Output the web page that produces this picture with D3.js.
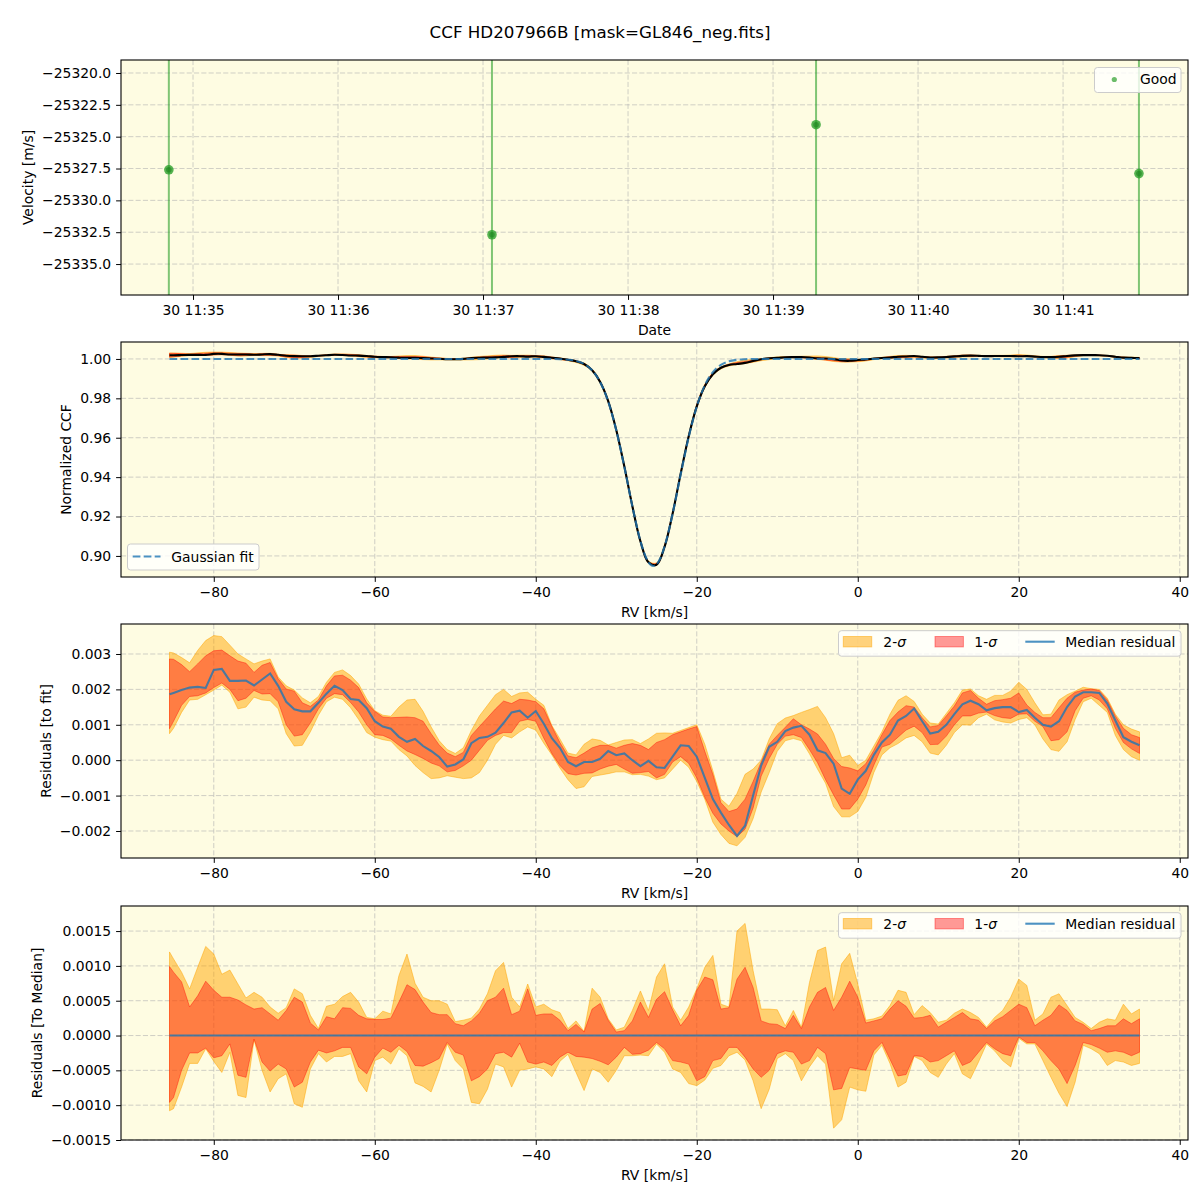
<!DOCTYPE html>
<html><head><meta charset="utf-8">
<script src="https://cdn.jsdelivr.net/npm/d3@7"></script>
<style>body{margin:0;background:#fff;} text{font-family:"DejaVu Sans",sans-serif;}</style>
</head><body><svg id="c" width="1200" height="1200" xmlns="http://www.w3.org/2000/svg"></svg>
<script>
// ---------------- DATA ----------------
const titleText = "CCF HD207966B [mask=GL846_neg.fits]";
// Panel 1: RV time series
const obsTimes = ["2021-08-30T11:34:50.0Z", "2021-08-30T11:37:03.7Z", "2021-08-30T11:39:17.8Z", "2021-08-30T11:41:31.4Z"];
const obsVel = [-25327.6, -25332.7, -25324.06, -25327.9];
const obsErr = [15, 15, 15, 15];
const velTicks = [-25335.0, -25332.5, -25330.0, -25327.5, -25325.0, -25322.5, -25320.0];

// RV grid (km/s)
const rvGrid = [-85.5].concat(d3.range(-85, 36, 1));
const rvTicks = [-80, -60, -40, -20, 0, 20, 40];
const ccfTicks = [0.90, 0.92, 0.94, 0.96, 0.98, 1.00];
const resTicks = [-0.002, -0.001, 0.000, 0.001, 0.002, 0.003];
const devTicks = [-0.0015, -0.0010, -0.0005, 0.0000, 0.0005, 0.0010, 0.0015];

// Panel 2: observed CCF (median) and Gaussian fit
const ccfObs = [
 1.00186, 1.00190, 1.00198, 1.00205, 1.00207, 1.00204,
 1.00255, 1.00258, 1.00224, 1.00224, 1.00225, 1.00211, 1.00228, 1.00245, 1.00210, 1.00165,
 1.00144, 1.00138, 1.00138, 1.00162, 1.00188, 1.00210, 1.00198, 1.00173, 1.00170, 1.00147,
 1.00110, 1.00095, 1.00089, 1.00066, 1.00052, 1.00060, 1.00040, 1.00026, 1.00009, 0.99982,
 0.99988, 1.00002, 1.00048, 1.00063, 1.00066, 1.00078, 1.00105, 1.00135, 1.00140, 1.00120,
 1.00139, 1.00103, 1.00058, 1.00023, 0.99958, 0.99882, 0.99742, 0.99423, 0.98833, 0.97862,
 0.96395, 0.94548, 0.92524, 0.90745, 0.89677, 0.89554, 0.90457, 0.92148, 0.94172, 0.96078,
 0.97592, 0.98615, 0.99224, 0.99552, 0.99695, 0.99741, 0.99800, 0.99895, 0.99985, 1.00038,
 1.00052, 1.00082, 1.00092, 1.00097, 1.00072, 1.00028, 1.00020, 0.99990, 0.99920, 0.99905,
 0.99945, 0.99970, 1.00015, 1.00050, 1.00072, 1.00112, 1.00125, 1.00146, 1.00110, 1.00075,
 1.00080, 1.00100, 1.00130, 1.00158, 1.00168, 1.00158, 1.00141, 1.00147, 1.00150, 1.00150,
 1.00136, 1.00142, 1.00120, 1.00100, 1.00095, 1.00110, 1.00150, 1.00180, 1.00192, 1.00192,
 1.00190, 1.00160, 1.00112, 1.00065, 1.00052, 1.00042];
const fitRV = [-85.5, -40, -38, -37, -36, -35, -34, -33, -32, -31, -30, -29, -28, -27, -26.5, -26, -25.4, -25, -24.5, -24, -23, -22, -21, -20, -19, -18, -17, -16, -15, -14, -13, -10, 35];
const fitFlux = [1.0, 1.0, 0.99996, 0.99988, 0.99963, 0.99899, 0.99747, 0.99428, 0.98829, 0.97836, 0.96381, 0.94529, 0.92524, 0.90762, 0.90111, 0.89679, 0.89490, 0.89574, 0.89910, 0.90479, 0.92138, 0.94130, 0.96038, 0.97582, 0.98665, 0.99334, 0.99700, 0.99878, 0.99955, 0.99985, 0.99995, 1.0, 1.0];

// Panel 3: residuals to fit, units of 1e-3
const resScale = 1e-3;
const resMed = [
 1.86, 1.90, 1.98, 2.05, 2.07, 2.04,
 2.55, 2.58, 2.24, 2.24, 2.25, 2.11, 2.28, 2.45, 2.10, 1.65,
 1.44, 1.38, 1.38, 1.62, 1.88, 2.10, 1.98, 1.73, 1.70, 1.47,
 1.10, 0.95, 0.89, 0.66, 0.52, 0.60, 0.40, 0.26, 0.09, -0.18,
 -0.12, 0.02, 0.48, 0.63, 0.66, 0.78, 1.05, 1.35, 1.40, 1.20,
 1.39, 1.03, 0.62, 0.35, -0.05, -0.17, -0.05, -0.05, 0.04, 0.26,
 0.14, 0.19, 0.00, -0.17, -0.02, -0.20, -0.22, 0.10, 0.42, 0.40,
 0.10, -0.50, -1.10, -1.48, -1.83, -2.14, -1.85, -1.00, -0.15, 0.38,
 0.52, 0.82, 0.92, 0.97, 0.72, 0.28, 0.20, -0.10, -0.80, -0.95,
 -0.55, -0.30, 0.15, 0.50, 0.72, 1.12, 1.25, 1.46, 1.10, 0.75,
 0.80, 1.00, 1.30, 1.58, 1.68, 1.58, 1.41, 1.47, 1.50, 1.50,
 1.36, 1.42, 1.20, 1.00, 0.95, 1.10, 1.50, 1.80, 1.92, 1.92,
 1.90, 1.60, 1.12, 0.65, 0.52, 0.42];
const res1Hi = [
 2.86, 2.85, 2.70, 2.50, 2.72, 2.95,
 3.09, 3.11, 2.95, 2.80, 2.74, 2.48, 2.68, 2.76, 2.30, 2.01,
 1.95, 1.62, 1.52, 1.70, 2.10, 2.38, 2.40, 2.26, 2.05, 1.62,
 1.38, 1.22, 1.20, 1.21, 1.22, 1.20, 1.10, 0.75, 0.43, 0.20,
 0.10, 0.22, 0.70, 0.95, 1.20, 1.45, 1.67, 1.60, 1.72, 1.70,
 1.65, 1.45, 0.95, 0.50, 0.12, 0.07, 0.20, 0.35, 0.42, 0.42,
 0.34, 0.42, 0.47, 0.42, 0.30, 0.50, 0.58, 0.72, 0.80, 0.88,
 0.95, 0.25, -0.40, -1.20, -1.45, -1.38, -1.10, -0.60, -0.05, 0.45,
 0.70, 0.93, 1.17, 1.00, 0.88, 0.74, 0.45, 0.05, -0.18, -0.22,
 -0.30, -0.10, 0.28, 0.72, 1.12, 1.36, 1.54, 1.50, 1.20, 0.94,
 0.98, 1.25, 1.53, 1.90, 1.97, 1.75, 1.58, 1.68, 1.71, 1.75,
 1.90, 1.56, 1.35, 1.20, 1.20, 1.48, 1.75, 1.92, 1.98, 2.01,
 1.97, 1.70, 1.25, 0.90, 0.72, 0.64];
const res1Lo = [
 0.89, 1.10, 1.55, 1.80, 1.82, 1.90,
 2.05, 2.18, 2.00, 1.68, 1.75, 1.97, 1.87, 1.88, 1.65, 1.00,
 0.68, 0.72, 1.05, 1.45, 1.75, 1.88, 1.85, 1.63, 1.36, 1.00,
 0.72, 0.70, 0.60, 0.42, 0.26, 0.16, 0.05, -0.08, -0.16, -0.33,
 -0.29, -0.16, 0.00, 0.28, 0.56, 0.70, 0.78, 0.78, 1.10, 1.15,
 1.10, 0.62, 0.19, -0.15, -0.38, -0.42, -0.37, -0.36, -0.25, -0.17,
 -0.12, -0.25, -0.37, -0.35, -0.32, -0.50, -0.40, -0.05, 0.10, -0.09,
 -0.50, -1.05, -1.50, -1.80, -2.00, -2.16, -1.95, -1.35, -0.45, 0.05,
 0.45, 0.68, 0.72, 0.64, 0.30, -0.07, -0.55, -0.98, -1.38, -1.38,
 -1.10, -0.70, -0.14, 0.37, 0.45, 0.65, 0.85, 0.96, 0.78, 0.44,
 0.45, 0.68, 1.00, 1.25, 1.25, 1.33, 1.36, 1.26, 1.20, 1.18,
 1.30, 1.31, 1.10, 0.95, 0.55, 0.58, 0.80, 1.40, 1.75, 1.82,
 1.70, 1.45, 0.90, 0.50, 0.32, 0.19];
const res2Hi = [
 3.05, 3.03, 2.90, 2.75, 3.10, 3.38,
 3.52, 3.49, 3.25, 3.00, 2.86, 2.72, 2.80, 2.86, 2.35, 2.10,
 1.98, 1.76, 1.62, 1.80, 2.20, 2.48, 2.55, 2.39, 2.15, 1.73,
 1.40, 1.27, 1.24, 1.50, 1.70, 1.72, 1.38, 0.94, 0.55, 0.30,
 0.19, 0.35, 0.84, 1.25, 1.55, 1.85, 2.00, 1.80, 1.90, 1.92,
 1.72, 1.55, 0.98, 0.60, 0.20, 0.15, 0.45, 0.60, 0.56, 0.43,
 0.50, 0.57, 0.58, 0.47, 0.60, 0.76, 0.77, 0.76, 0.84, 0.92,
 1.00, 0.45, -0.30, -1.10, -1.30, -0.94, -0.40, -0.25, 0.00, 0.60,
 1.03, 1.19, 1.26, 1.35, 1.43, 1.52, 1.20, 0.75, 0.07, 0.14,
 -0.15, 0.00, 0.40, 0.80, 1.30, 1.69, 1.82, 1.66, 1.30, 1.05,
 1.02, 1.32, 1.62, 1.98, 2.01, 1.82, 1.72, 1.83, 1.83, 1.95,
 2.20, 2.00, 1.62, 1.28, 1.30, 1.70, 1.85, 1.95, 2.06, 2.02,
 2.00, 1.75, 1.30, 1.00, 0.88, 0.80];
const res2Lo = [
 0.75, 0.90, 1.35, 1.70, 1.72, 1.85,
 1.98, 2.12, 1.92, 1.45, 1.50, 1.78, 1.70, 1.68, 1.45, 0.75,
 0.40, 0.42, 0.80, 1.27, 1.65, 1.78, 1.72, 1.48, 1.15, 0.78,
 0.65, 0.58, 0.54, 0.30, 0.12, -0.15, -0.35, -0.52, -0.50, -0.44,
 -0.48, -0.52, -0.50, -0.35, 0.00, 0.45, 0.70, 0.63, 0.80, 0.94,
 0.85, 0.48, 0.15, -0.22, -0.55, -0.80, -0.75, -0.46, -0.42, -0.38,
 -0.33, -0.33, -0.41, -0.40, -0.45, -0.55, -0.50, -0.25, 0.00, -0.20,
 -0.60, -1.10, -1.75, -2.10, -2.35, -2.42, -2.18, -1.65, -0.90, -0.35,
 0.25, 0.55, 0.61, 0.55, 0.18, -0.25, -0.65, -1.31, -1.60, -1.60,
 -1.45, -1.05, -0.35, 0.15, 0.35, 0.47, 0.63, 0.70, 0.52, 0.20,
 0.15, 0.42, 0.78, 1.00, 0.99, 1.20, 1.30, 1.14, 1.08, 1.05,
 1.15, 1.20, 1.00, 0.60, 0.30, 0.25, 0.52, 1.15, 1.65, 1.75,
 1.55, 1.35, 0.70, 0.30, 0.10, 0.00];

// Panel 4: residuals to median, units of 1e-4
const devScale = 1e-4;
const dev1Hi = [
 9.9, 9.1, 7.7, 4.1, 5.7, 7.8,
 6.5, 5.5, 5.5, 5.1, 4.4, 3.8, 4.0, 3.1, 2.2, 3.6,
 5.5, 4.8, 1.8, 0.8, 2.7, 2.4, 4.0, 3.9, 2.9, 2.4,
 2.3, 2.3, 2.5, 4.8, 7.3, 6.6, 4.8, 3.3, 3.0, 3.0,
 1.7, 1.4, 2.1, 3.2, 5.0, 5.5, 6.8, 3.0, 3.5, 6.7,
 2.9, 3.1, 3.1, 2.2, 0.7, 1.6, 0.5, 3.8, 4.6, 2.2,
 0.5, 0.7, 2.1, 4.8, 2.6, 5.2, 6.3, 3.7, 1.4, 2.9,
 6.5, 8.4, 8.0, 3.8, 4.0, 8.1, 9.8, 6.9, 2.1, 1.7,
 1.6, 1.0, 2.9, 1.0, 4.1, 6.2, 6.9, 3.6, 5.5, 7.8,
 5.5, 1.8, 2.1, 2.4, 3.8, 5.0, 4.2, 2.5, 2.6, 2.9,
 1.2, 1.9, 2.6, 3.3, 2.4, 2.2, 1.0, 2.1, 2.7, 3.6,
 4.5, 4.0, 1.4, 2.2, 2.9, 4.4, 3.6, 2.1, 1.6, 0.7,
 1.0, 1.4, 1.4, 2.4, 1.7, 2.4];
const dev2Hi = [
 12.0, 11.0, 9.1, 6.7, 9.8, 12.8,
 11.7, 8.8, 9.4, 7.4, 5.4, 6.2, 5.5, 4.1, 3.2, 4.0,
 6.7, 6.0, 2.9, 1.0, 4.2, 4.5, 5.6, 6.2, 4.8, 2.6,
 2.4, 3.5, 3.1, 8.6, 11.7, 7.5, 5.5, 5.0, 5.0, 4.5,
 2.0, 2.2, 2.5, 3.8, 6.0, 9.3, 10.5, 5.5, 4.1, 7.4,
 4.1, 4.5, 3.7, 3.3, 1.0, 2.1, 0.6, 6.8, 5.5, 2.4,
 0.8, 1.2, 3.6, 6.4, 3.6, 8.4, 10.3, 4.1, 2.2, 4.1,
 6.7, 9.8, 11.5, 4.5, 4.1, 15.0, 16.1, 9.3, 3.8, 3.8,
 3.7, 1.4, 3.6, 1.2, 7.6, 12.2, 12.7, 5.0, 10.3, 11.8,
 7.4, 2.2, 2.4, 2.8, 4.3, 6.5, 6.2, 3.0, 4.3, 3.3,
 1.9, 2.2, 3.2, 3.8, 3.3, 2.6, 1.2, 2.6, 3.6, 5.5,
 8.1, 7.2, 2.2, 3.1, 5.5, 6.0, 4.3, 2.6, 1.9, 1.0,
 1.9, 2.4, 2.2, 4.5, 3.1, 3.8];
const dev1Lo = [
 -9.6, -8.9, -5.0, -2.5, -2.5, -1.8,
 -3.2, -2.9, -1.2, -5.7, -6.0, -0.5, -3.8, -5.1, -4.1, -4.8,
 -7.4, -6.7, -3.8, -2.1, -2.5, -2.2, -1.7, -1.7, -4.5, -5.5,
 -3.1, -1.8, -2.4, -1.4, -2.3, -4.3, -4.4, -3.9, -3.3, -1.0,
 -2.4, -2.8, -6.5, -5.9, -4.8, -2.6, -2.4, -3.1, -1.1, -3.8,
 -4.1, -3.8, -4.3, -3.1, -2.4, -3.0, -3.1, -3.3, -3.7, -4.2,
 -3.1, -1.7, -2.7, -2.6, -2.1, -1.0, -1.9, -3.6, -3.8, -4.1,
 -6.5, -5.9, -3.6, -3.3, -1.7, -1.7, -3.1, -4.8, -6.0, -5.0,
 -2.6, -2.2, -2.4, -4.1, -3.6, -1.7, -2.6, -7.8, -7.6, -4.6,
 -4.8, -5.0, -2.2, -1.0, -3.4, -5.8, -5.6, -2.9, -3.0, -3.8,
 -3.6, -2.9, -2.2, -4.3, -3.8, -2.4, -1.0, -1.9, -2.6, -2.9,
 -0.2, -1.0, -1.0, -2.2, -3.6, -4.8, -6.9, -4.3, -1.0, -1.3,
 -1.8, -2.4, -2.2, -2.4, -2.9, -2.4];
const dev2Lo = [
 -10.8, -10.5, -7.4, -4.0, -4.0, -1.9,
 -3.7, -5.3, -2.4, -8.6, -8.9, -0.6, -5.0, -8.1, -6.2, -5.5,
 -9.8, -10.3, -4.8, -2.6, -3.8, -3.0, -3.0, -2.6, -6.5, -8.1,
 -3.6, -3.1, -4.1, -1.9, -2.9, -6.8, -7.3, -8.1, -5.0, -1.2,
 -3.6, -4.8, -9.6, -9.8, -7.7, -4.1, -4.5, -7.4, -5.0, -4.8,
 -4.5, -4.8, -5.9, -3.7, -2.7, -5.3, -7.9, -4.8, -5.3, -6.7,
 -5.0, -2.9, -2.9, -2.8, -2.9, -1.2, -2.4, -4.8, -5.3, -6.9,
 -7.2, -6.4, -4.7, -4.3, -2.9, -2.4, -3.5, -6.5, -10.5, -7.7,
 -3.3, -2.6, -3.6, -6.5, -4.5, -2.9, -4.1, -13.3, -12.1, -7.4,
 -7.8, -8.0, -2.8, -1.4, -4.0, -7.4, -6.7, -3.0, -3.6, -5.3,
 -6.0, -4.1, -2.6, -5.5, -6.2, -3.8, -1.2, -2.2, -3.6, -4.5,
 -0.4, -1.2, -1.2, -3.6, -6.0, -8.3, -10.2, -6.7, -1.4, -1.9,
 -2.6, -4.3, -3.6, -3.8, -4.3, -4.0];

// ---------------- DRAWING ----------------
const svg = d3.select("#c");
const BG = "#fefce2";
const FS = 13.9;
const X0 = 121, X1 = 1188;
const C_ORANGE = "#ffa500", C_RED = "#ff0000", C_BLUE = "#1f77b4";
const smooth = d3.curveCatmullRom.alpha(0.5);

svg.append("rect").attr("width", 1200).attr("height", 1200).attr("fill", "#fff");
svg.append("text").attr("x", 600).attr("y", 38).attr("text-anchor", "middle")
  .attr("font-size", 16.7).attr("fill", "#000").text(titleText);

function setupPanel(id, y0, y1) {
  const g = svg.append("g");
  g.append("rect").attr("x", X0).attr("y", y0).attr("width", X1 - X0).attr("height", y1 - y0).attr("fill", BG);
  svg.append("clipPath").attr("id", "clip" + id).append("rect")
    .attr("x", X0).attr("y", y0).attr("width", X1 - X0).attr("height", y1 - y0);
  const grid = g.append("g");
  const data = g.append("g").attr("clip-path", `url(#clip${id})`);
  const top = g.append("g");
  return {g, grid, data, top, y0, y1};
}
function drawGrid(p, xs, xv, ys, yv) {
  const st = (s) => s.attr("stroke", "#b0b0b0").attr("stroke-opacity", 0.6).attr("stroke-width", 1).attr("stroke-dasharray", "5.1,2.2");
  xv.forEach(v => { const x = xs(v); if (x >= X0 && x <= X1) st(p.grid.append("line").attr("x1", x).attr("x2", x).attr("y1", p.y0).attr("y2", p.y1)); });
  yv.forEach(v => { const y = ys(v); if (y >= p.y0 && y <= p.y1) st(p.grid.append("line").attr("x1", X0).attr("x2", X1).attr("y1", y).attr("y2", y)); });
}
function drawAxes(p, xs, xv, xf, ys, yv, yf, xlabel, ylabel, ylabelX) {
  const ax = p.top.append("g").attr("transform", `translate(0,${p.y1})`)
    .call(d3.axisBottom(xs).tickValues(xv).tickFormat(xf).tickSize(4.9).tickPadding(4.9));
  const ay = p.top.append("g").attr("transform", `translate(${X0},0)`)
    .call(d3.axisLeft(ys).tickValues(yv).tickFormat(yf).tickSize(4.9).tickPadding(4.9));
  [ax, ay].forEach(a => {
    a.select(".domain").remove();
    a.selectAll("text").attr("font-size", FS).attr("font-family", "DejaVu Sans").attr("fill", "#000");
    a.selectAll("line").attr("stroke", "#000").attr("stroke-width", 1);
  });
  p.top.append("rect").attr("x", X0).attr("y", p.y0).attr("width", X1 - X0).attr("height", p.y1 - p.y0)
    .attr("fill", "none").attr("stroke", "#000").attr("stroke-width", 1.1);
  p.top.append("text").attr("x", (X0 + X1) / 2).attr("y", p.y1 + 40).attr("text-anchor", "middle")
    .attr("font-size", FS).text(xlabel);
  p.top.append("text").attr("transform", `translate(${ylabelX},${(p.y0 + p.y1) / 2}) rotate(-90)`)
    .attr("text-anchor", "middle").attr("dy", "0.35em").attr("font-size", FS).text(ylabel);
}
function legendBox(p, x, y, w, h) {
  p.top.append("rect").attr("x", x).attr("y", y).attr("width", w).attr("height", h).attr("rx", 3)
    .attr("fill", "#fff").attr("fill-opacity", 0.8).attr("stroke", "#cccccc").attr("stroke-width", 1);
}

// ---- Panel 1 ----
{
  const p = setupPanel(1, 60, 295);
  const tdom = [d3.isoParse("2021-08-30T11:34:30.2Z"), d3.isoParse("2021-08-30T11:41:51.7Z")];
  const xs = d3.scaleUtc().domain(tdom).range([X0, X1]);
  const ys = d3.scaleLinear().domain([-25337.43, -25318.98]).range([295, 60]);
  const xt = xs.ticks(d3.utcMinute.every(1));
  drawGrid(p, xs, xt, ys, velTicks);
  const pts = obsTimes.map((t, i) => ({t: d3.isoParse(t), v: obsVel[i], e: obsErr[i]}));
  p.data.selectAll("line.err").data(pts).join("line")
    .attr("x1", d => xs(d.t)).attr("x2", d => xs(d.t))
    .attr("y1", d => ys(d.v - d.e)).attr("y2", d => ys(d.v + d.e))
    .attr("stroke", "#2ca02c").attr("stroke-opacity", 0.6).attr("stroke-width", 2);
  p.data.selectAll("circle.o").data(pts).join("circle")
    .attr("cx", d => xs(d.t)).attr("cy", d => ys(d.v)).attr("r", 4.8)
    .attr("fill", "#2ca02c").attr("fill-opacity", 0.8);
  p.data.selectAll("circle.i").data(pts).join("circle")
    .attr("cx", d => xs(d.t)).attr("cy", d => ys(d.v)).attr("r", 2.8)
    .attr("fill", "#1a7f1a").attr("fill-opacity", 0.55);
  drawAxes(p, xs, xt, d3.utcFormat("%d %H:%M"), ys, velTicks, d3.format(".1f"), "Date", "Velocity [m/s]", 28);
  legendBox(p, 1094.5, 67.5, 86.5, 25);
  p.top.append("circle").attr("cx", 1114.3).attr("cy", 79.5).attr("r", 2.6).attr("fill", "#2ca02c").attr("fill-opacity", 0.7);
  p.top.append("text").attr("x", 1140).attr("y", 84).attr("font-size", FS).text("Good");
}

const xRV = d3.scaleLinear().domain([-91.525, 41.025]).range([X0, X1]);

// ---- Panel 2 ----
{
  const p = setupPanel(2, 342, 577);
  const ys = d3.scaleLinear().domain([0.8893, 1.0086]).range([577, 342]);
  drawGrid(p, xRV, rvTicks, ys, ccfTicks);
  const rows = rvGrid.map((rv, i) => ({rv, c: ccfObs[i],
    l2: ccfObs[i] + (res2Lo[i] - resMed[i]) * resScale, h2: ccfObs[i] + (res2Hi[i] - resMed[i]) * resScale,
    l1: ccfObs[i] + (res1Lo[i] - resMed[i]) * resScale, h1: ccfObs[i] + (res1Hi[i] - resMed[i]) * resScale}));
  const band = (lo, hi) => d3.area().curve(smooth).x(d => xRV(d.rv)).y0(d => ys(d[lo])).y1(d => ys(d[hi]));
  p.data.append("path").datum(rows).attr("d", band("l2", "h2"))
    .attr("fill", C_ORANGE).attr("fill-opacity", 0.5).attr("stroke", C_ORANGE).attr("stroke-opacity", 0.5);
  p.data.append("path").datum(rows).attr("d", band("l1", "h1"))
    .attr("fill", C_RED).attr("fill-opacity", 0.4).attr("stroke", C_RED).attr("stroke-opacity", 0.4);
  p.data.append("path").datum(rows)
    .attr("d", d3.line().curve(smooth).x(d => xRV(d.rv)).y(d => ys(d.c)))
    .attr("fill", "none").attr("stroke", "#000").attr("stroke-width", 2.1);
  const fit = fitRV.map((rv, i) => ({rv, f: fitFlux[i]}));
  p.data.append("path").datum(fit)
    .attr("d", d3.line().curve(d3.curveMonotoneX).x(d => xRV(d.rv)).y(d => ys(d.f)))
    .attr("fill", "none").attr("stroke", C_BLUE).attr("stroke-opacity", 0.8).attr("stroke-width", 2.1)
    .attr("stroke-dasharray", "7.7,3.3");
  drawAxes(p, xRV, rvTicks, d3.format("d"), ys, ccfTicks, d3.format(".2f"), "RV [km/s]", "Normalized CCF", 66);
  legendBox(p, 127.5, 544, 131.5, 26);
  p.top.append("line").attr("x1", 132.7).attr("x2", 160.5).attr("y1", 556.5).attr("y2", 556.5)
    .attr("stroke", C_BLUE).attr("stroke-opacity", 0.8).attr("stroke-width", 2.1).attr("stroke-dasharray", "7.7,3.3");
  p.top.append("text").attr("x", 171.3).attr("y", 561.5).attr("font-size", FS).text("Gaussian fit");
}

function sigmaLegend(p, top) {
  legendBox(p, 838.5, top, 342.5, 25.5);
  const cy = top + 11;
  p.top.append("rect").attr("x", 843.3).attr("y", cy - 5.2).attr("width", 28.4).attr("height", 10.4)
    .attr("fill", C_ORANGE).attr("fill-opacity", 0.5).attr("stroke", C_ORANGE).attr("stroke-opacity", 0.5);
  const t1 = p.top.append("text").attr("x", 883.3).attr("y", cy + 4.8).attr("font-size", FS);
  t1.append("tspan").text("2-"); t1.append("tspan").attr("font-style", "italic").text("σ");
  p.top.append("rect").attr("x", 935).attr("y", cy - 5.2).attr("width", 28.4).attr("height", 10.4)
    .attr("fill", C_RED).attr("fill-opacity", 0.4).attr("stroke", C_RED).attr("stroke-opacity", 0.4);
  const t2 = p.top.append("text").attr("x", 974.3).attr("y", cy + 4.8).attr("font-size", FS);
  t2.append("tspan").text("1-"); t2.append("tspan").attr("font-style", "italic").text("σ");
  p.top.append("line").attr("x1", 1025.3).attr("x2", 1054.7).attr("y1", cy).attr("y2", cy)
    .attr("stroke", C_BLUE).attr("stroke-opacity", 0.8).attr("stroke-width", 2.1);
  p.top.append("text").attr("x", 1065.3).attr("y", cy + 4.8).attr("font-size", FS).text("Median residual");
}

function residualPanel(id, y0, y1, dom, ticks, fmt, scale, med, l1, h1, l2, h2, ylabel, ylabelX) {
  const p = setupPanel(id, y0, y1);
  const ys = d3.scaleLinear().domain(dom).range([y1, y0]);
  drawGrid(p, xRV, rvTicks, ys, ticks);
  const rows = rvGrid.map((rv, i) => ({rv, m: med ? med[i] * scale : 0,
    l1: l1[i] * scale, h1: h1[i] * scale, l2: l2[i] * scale, h2: h2[i] * scale}));
  const band = (lo, hi) => d3.area().x(d => xRV(d.rv)).y0(d => ys(d[lo])).y1(d => ys(d[hi]));
  p.data.append("path").datum(rows).attr("d", band("l2", "h2"))
    .attr("fill", C_ORANGE).attr("fill-opacity", 0.5).attr("stroke", C_ORANGE).attr("stroke-opacity", 0.5).attr("stroke-width", 1);
  p.data.append("path").datum(rows).attr("d", band("l1", "h1"))
    .attr("fill", C_RED).attr("fill-opacity", 0.4).attr("stroke", C_RED).attr("stroke-opacity", 0.4).attr("stroke-width", 1);
  p.data.append("path").datum(rows).attr("d", d3.line().x(d => xRV(d.rv)).y(d => ys(d.m)))
    .attr("fill", "none").attr("stroke", C_BLUE).attr("stroke-opacity", 0.8).attr("stroke-width", 2.1);
  drawAxes(p, xRV, rvTicks, d3.format("d"), ys, ticks, fmt, "RV [km/s]", ylabel, ylabelX);
  sigmaLegend(p, y0 + 6.7);
}

residualPanel(3, 624, 858, [-0.002763, 0.003847], resTicks, d3.format(".3f"), resScale,
  resMed, res1Lo, res1Hi, res2Lo, res2Hi, "Residuals [to fit]", 46);
residualPanel(4, 906, 1140, [-0.0015, 0.00186], devTicks, d3.format(".4f"), devScale,
  null, dev1Lo, dev1Hi, dev2Lo, dev2Hi, "Residuals [To Median]", 37);
</script></body></html>
